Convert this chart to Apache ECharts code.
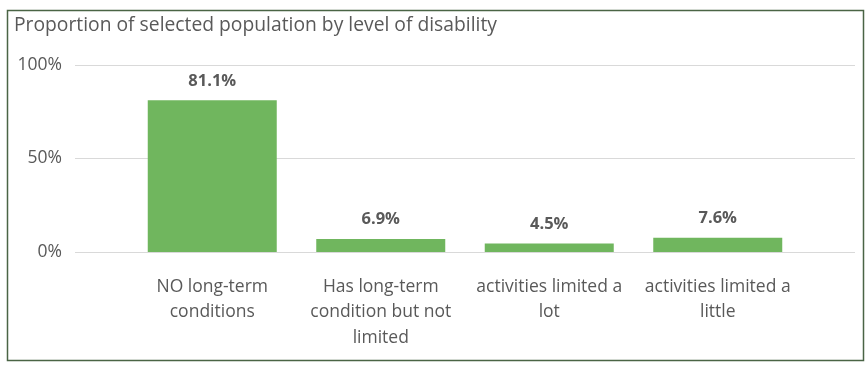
<!DOCTYPE html>
<html><head><meta charset="utf-8">
<script src="https://cdn.jsdelivr.net/npm/echarts@6/dist/echarts.min.js"></script>
<style>html,body{margin:0;padding:0;background:#fff}#c{width:867px;height:367px}</style>
</head><body><div id="c"></div>
<script>
const title = 'Proportion of selected population by level of disability';
const categories = ['NO long-term\nconditions', 'Has long-term\ncondition but not\nlimited', 'activities limited a\nlot', 'activities limited a\nlittle'];
const values = [81.1, 6.9, 4.5, 7.6];
const yTicks = [0, 50, 100];

const txt = '#595959';
const font = 'Open Sans';
const chart = echarts.init(document.getElementById('c'), null, {renderer: 'canvas'});
chart.setOption({
  animation: false,
  backgroundColor: '#fff',
  graphic: [{
    type: 'rect', left: 5, top: 8, shape: {width: 856, height: 350},
    style: {fill: 'none', stroke: '#4a6445', lineWidth: 1.5}, silent: true
  }],
  title: {
    text: title, left: 9, top: 11,
    textStyle: {color: txt, fontSize: 19.3, fontWeight: 'normal', fontFamily: font}
  },
  grid: [
    {left: 75, right: 12, top: 65, bottom: 115, containLabel: false},
    {left: 128, width: 674, top: 65, bottom: 115, containLabel: false}
  ],
  xAxis: [
    {gridIndex: 0, type: 'value', show: false, min: 0, max: 1},
    {gridIndex: 1, type: 'category', data: categories,
     axisLine: {show: false}, axisTick: {show: false},
     axisLabel: {color: txt, fontSize: 17.5, fontFamily: font, margin: 22, lineHeight: 25.5, interval: 0}}
  ],
  yAxis: [
    {gridIndex: 0, type: 'value', min: yTicks[0], max: yTicks[yTicks.length - 1], interval: 50,
     axisLine: {show: false}, axisTick: {show: false},
     axisLabel: {color: txt, fontSize: 17.5, fontFamily: font, margin: 13, formatter: v => v + '%'},
     splitLine: {lineStyle: {color: '#d9d9d9', width: 1}}},
    {gridIndex: 1, type: 'value', min: 0, max: 100, interval: 50, show: false, splitLine: {show: false}}
  ],
  series: [{
    type: 'bar', xAxisIndex: 1, yAxisIndex: 1, data: values, barWidth: 129,
    itemStyle: {color: '#70b65e'},
    label: {show: true, position: 'top', distance: 11, color: txt, fontSize: 16.5, fontWeight: 'bold', fontFamily: font,
            formatter: p => p.value.toFixed(1) + '%'}
  }]
});
</script></body></html>
